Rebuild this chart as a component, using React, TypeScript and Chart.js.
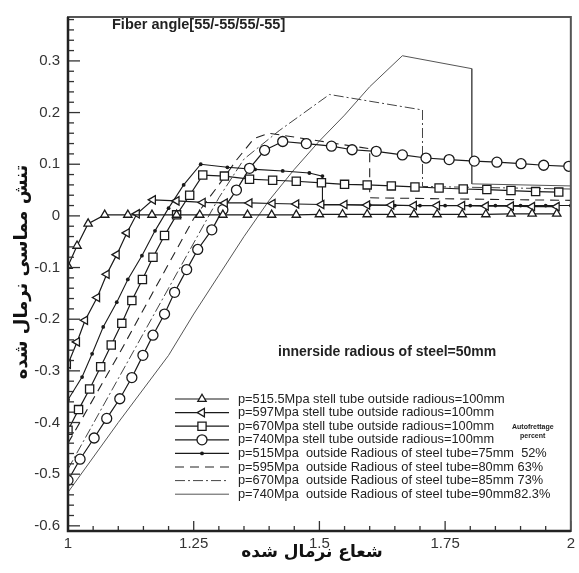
import React, { useEffect, useRef } from "react";
import { Chart, registerables } from "chart.js";
Chart.register(...registerables);

// ---- axis ticks ----
const xTicks = [1, 1.25, 1.5, 1.75, 2];
const yTicks = [-0.6, -0.5, -0.4, -0.3, -0.2, -0.1, 0, 0.1, 0.2, 0.3];

// ---- series ----
// p=515.5 MPa, outside radius 100 mm (triangles)
const s1X = [1, 1.018, 1.04, 1.073, 1.119, 1.167, 1.216, 1.262, 1.308, 1.357, 1.405, 1.454, 1.5, 1.546, 1.595, 1.643, 1.688, 1.734, 1.784, 1.831, 1.881, 1.923, 1.972];
const s1Y = [-0.097, -0.058, -0.015, 0.002, 0.002, 0.002, 0.002, 0.002, 0.002, 0.002, 0.002, 0.002, 0.003, 0.003, 0.003, 0.003, 0.003, 0.003, 0.003, 0.003, 0.004, 0.004, 0.004];
// p=597 MPa (left triangles)
const s2X = [1, 1.018, 1.034, 1.058, 1.077, 1.097, 1.117, 1.137, 1.169, 1.216, 1.268, 1.312, 1.361, 1.407, 1.454, 1.504, 1.55, 1.595, 1.643, 1.688, 1.734, 1.784, 1.831, 1.881, 1.923, 1.972];
const s2Y = [-0.287, -0.244, -0.202, -0.158, -0.113, -0.075, -0.033, 0.004, 0.031, 0.029, 0.026, 0.025, 0.025, 0.024, 0.023, 0.022, 0.022, 0.021, 0.021, 0.02, 0.02, 0.02, 0.019, 0.019, 0.018, 0.018];
// p=670 MPa (squares)
const s3X = [1, 1.021, 1.043, 1.065, 1.086, 1.107, 1.127, 1.148, 1.169, 1.192, 1.216, 1.242, 1.268, 1.311, 1.361, 1.407, 1.454, 1.504, 1.55, 1.595, 1.643, 1.69, 1.738, 1.786, 1.833, 1.881, 1.93, 1.976];
const s3Y = [-0.415, -0.375, -0.335, -0.292, -0.25, -0.208, -0.164, -0.123, -0.08, -0.038, 0.002, 0.04, 0.079, 0.077, 0.071, 0.069, 0.067, 0.064, 0.061, 0.06, 0.058, 0.056, 0.054, 0.052, 0.051, 0.049, 0.047, 0.046];
// p=740 MPa (circles)
const s4X = [1, 1.024, 1.052, 1.077, 1.103, 1.127, 1.149, 1.169, 1.192, 1.212, 1.236, 1.258, 1.286, 1.308, 1.335, 1.361, 1.391, 1.427, 1.474, 1.524, 1.565, 1.613, 1.665, 1.712, 1.758, 1.808, 1.853, 1.901, 1.946, 1.996];
const s4Y = [-0.512, -0.471, -0.43, -0.392, -0.354, -0.313, -0.27, -0.231, -0.19, -0.148, -0.104, -0.065, -0.027, 0.012, 0.05, 0.092, 0.127, 0.144, 0.14, 0.135, 0.128, 0.125, 0.118, 0.112, 0.109, 0.106, 0.104, 0.101, 0.098, 0.096];
// p=515 MPa, 75 mm (line with dots)
const s5X = [1, 1.028, 1.048, 1.07, 1.097, 1.119, 1.147, 1.173, 1.2, 1.23, 1.264, 1.317, 1.372, 1.427, 1.48, 1.506, 1.506, 1.55, 1.6, 1.65, 1.7, 1.75, 1.8, 1.85, 1.9, 1.95, 2.0];
const s5Y = [-0.356, -0.312, -0.267, -0.215, -0.167, -0.123, -0.077, -0.029, 0.015, 0.06, 0.1, 0.094, 0.09, 0.087, 0.083, 0.077, 0.021, 0.021, 0.021, 0.02, 0.02, 0.02, 0.02, 0.02, 0.02, 0.02, 0.02];
// p=595 MPa, 80 mm (dashed)
const s6X = [1, 1.1, 1.2, 1.25, 1.3, 1.335, 1.37, 1.4, 1.5, 1.6, 1.6, 2];
const s6Y = [-0.44, -0.27, -0.093, -0.005, 0.06, 0.108, 0.15, 0.16, 0.145, 0.13, 0.035, 0.03];
// p=670 MPa, 85 mm (dash-dot)
const s7X = [1, 1.1, 1.2, 1.3, 1.35, 1.42, 1.52, 1.705, 1.705, 2];
const s7Y = [-0.49, -0.315, -0.14, 0.035, 0.11, 0.165, 0.235, 0.205, 0.057, 0.052];
// p=740 MPa, 90 mm (solid)
const s8X = [1, 1.1, 1.2, 1.25, 1.3, 1.35, 1.4, 1.45, 1.5, 1.55, 1.6, 1.665, 1.803, 1.803, 2];
const s8Y = [-0.535, -0.4, -0.27, -0.19, -0.115, -0.04, 0.03, 0.09, 0.145, 0.195, 0.25, 0.31, 0.285, 0.062, 0.058];

const seriesLabels = [
  "p=515.5Mpa stell tube outside radious=100mm",
  "p=597Mpa stell tube outside radious=100mm",
  "p=670Mpa stell tube outside radious=100mm",
  "p=740Mpa stell tube outside radious=100mm",
  "p=515Mpa  outside Radious of steel tube=75mm  52%",
  "p=595Mpa  outside Radious of steel tube=80mm 63%",
  "p=670Mpa  outside Radious of steel tube=85mm 73%",
  "p=740Mpa  outside Radious of steel tube=90mm82.3%",
];

const titleText = "Fiber angle[55/-55/55/-55]";
const noteText = "innerside radious of steel=50mm";
const yTitle = "تنش مماسی نرمال شده";
const xTitle = "شعاع نرمال شده";

const INK = "#1a1a1a";
const FONT = "'Liberation Sans', Arial, sans-serif";

type Marker = "triangle" | "left" | "rect" | "circle" | "dot" | "none";
const styles: { marker: Marker; dash: number[]; color: string; width: number; r: number }[] = [
  { marker: "triangle", dash: [], color: INK, width: 1.2, r: 4.8 },
  { marker: "left", dash: [], color: INK, width: 1.2, r: 4.8 },
  { marker: "rect", dash: [], color: INK, width: 1.2, r: 5.8 },
  { marker: "circle", dash: [], color: INK, width: 1.2, r: 5 },
  { marker: "dot", dash: [], color: INK, width: 1.1, r: 1.9 },
  { marker: "none", dash: [9, 6], color: "#222", width: 1.1, r: 0 },
  { marker: "none", dash: [10, 3, 2, 3], color: "#444", width: 1, r: 0 },
  { marker: "none", dash: [], color: "#555", width: 1, r: 0 },
];

const xsArr = [s1X, s2X, s3X, s4X, s5X, s6X, s7X, s8X];
const ysArr = [s1Y, s2Y, s3Y, s4Y, s5Y, s6Y, s7Y, s8Y];

function drawMarker(ctx: CanvasRenderingContext2D, m: Marker, x: number, y: number, r: number) {
  ctx.beginPath();
  if (m === "triangle" || m === "left") {
    let rad = m === "left" ? -Math.PI / 2 : 0;
    for (let i = 0; i < 3; i++) {
      const px = x + Math.sin(rad) * r;
      const py = y - Math.cos(rad) * r;
      if (i === 0) ctx.moveTo(px, py);
      else ctx.lineTo(px, py);
      rad += (2 * Math.PI) / 3;
    }
    ctx.closePath();
    ctx.fillStyle = "#fff";
    ctx.fill();
    ctx.stroke();
  } else if (m === "rect") {
    const s = r * Math.SQRT1_2;
    ctx.rect(x - s, y - s, 2 * s, 2 * s);
    ctx.fillStyle = "#fff";
    ctx.fill();
    ctx.stroke();
  } else if (m === "circle") {
    ctx.arc(x, y, r, 0, Math.PI * 2);
    ctx.fillStyle = "#fff";
    ctx.fill();
    ctx.stroke();
  } else if (m === "dot") {
    ctx.arc(x, y, r, 0, Math.PI * 2);
    ctx.fillStyle = INK;
    ctx.fill();
  }
}

const framePlugin = {
  id: "framePlugin",
  afterDatasetsDraw(chart: any) {
    const { ctx, chartArea: a, scales } = chart;
    const xs = scales.x;
    const ys = scales.y;
    ctx.save();
    // minor/major ticks pointing inward
    ctx.strokeStyle = "#333";
    ctx.lineWidth = 1.3;
    for (let k = -30; k <= 19; k++) {
      const py = ys.getPixelForValue(k * 0.02);
      if (py < a.top || py > a.bottom) continue;
      const major = k % 5 === 0;
      ctx.beginPath();
      ctx.moveTo(a.left, py);
      ctx.lineTo(a.left + (major ? 12 : 6), py);
      ctx.stroke();
    }
    for (let k = 0; k <= 20; k++) {
      const px = xs.getPixelForValue(1 + k * 0.05);
      const major = k % 5 === 0;
      ctx.beginPath();
      ctx.moveTo(px, a.bottom);
      ctx.lineTo(px, a.bottom - (major ? 10 : 5));
      ctx.stroke();
    }
    // frame
    ctx.strokeStyle = "#555";
    ctx.lineWidth = 2;
    ctx.strokeRect(a.left, a.top, a.right - a.left, a.bottom - a.top);
    ctx.strokeStyle = "#222";
    ctx.lineWidth = 2.5;
    ctx.beginPath();
    ctx.moveTo(a.left, a.top);
    ctx.lineTo(a.left, a.bottom);
    ctx.lineTo(a.right, a.bottom);
    ctx.stroke();

    // title texts
    ctx.fillStyle = "#222";
    ctx.textBaseline = "middle";
    ctx.textAlign = "left";
    ctx.font = `bold 14.5px ${FONT}`;
    ctx.fillText(titleText, 112, 25);
    ctx.font = `bold 14px ${FONT}`;
    ctx.fillText(noteText, 278, 352);

    // legend
    const rowY0 = 399;
    const rowGap = 13.6;
    seriesLabels.forEach((lab, i) => {
      const st = styles[i];
      const y = rowY0 + i * rowGap;
      ctx.strokeStyle = st.color;
      ctx.lineWidth = st.width;
      ctx.setLineDash(st.dash);
      ctx.beginPath();
      ctx.moveTo(175, y);
      ctx.lineTo(229, y);
      ctx.stroke();
      ctx.setLineDash([]);
      ctx.strokeStyle = INK;
      ctx.lineWidth = 1.3;
      drawMarker(ctx, st.marker, 202, y, st.r);
      ctx.fillStyle = "#222";
      ctx.font = `12.8px ${FONT}`;
      ctx.textAlign = "left";
      ctx.fillText(lab, 238, y);
    });
    ctx.font = `bold 7px ${FONT}`;
    ctx.fillText("Autofrettage", 512, 427);
    ctx.fillText("percent", 520, 436);

    // axis titles (Persian)
    ctx.font = "bold 17px 'DejaVu Sans', sans-serif";
    ctx.textAlign = "center";
    ctx.fillStyle = "#111";
    ctx.fillText(xTitle, 312, 553);
    ctx.font = "bold 18px 'DejaVu Sans', sans-serif";
    ctx.translate(22, 272);
    ctx.rotate(-Math.PI / 2);
    ctx.fillText(yTitle, 0, 0);
    ctx.restore();
  },
};

export default function App() {
  const ref = useRef<HTMLCanvasElement | null>(null);
  useEffect(() => {
    if (!ref.current) return;
    const datasets = seriesLabels.map((label, i) => {
      const st = styles[i];
      const data = xsArr[i].map((x, j) => ({ x, y: ysArr[i][j] }));
      const hasMarker = st.marker !== "none";
      return {
        label,
        data,
        showLine: true,
        fill: false,
        tension: 0,
        borderColor: st.color,
        borderWidth: st.width,
        borderDash: st.dash,
        pointStyle:
          st.marker === "rect" ? "rect" : st.marker === "circle" || st.marker === "dot" ? "circle" : "triangle",
        rotation: st.marker === "left" ? -90 : 0,
        pointRadius: hasMarker ? st.r : 0,
        pointHoverRadius: hasMarker ? st.r : 0,
        pointBackgroundColor: st.marker === "dot" ? INK : "#fff",
        pointBorderColor: INK,
        pointBorderWidth: st.marker === "dot" ? 0 : 1.3,
      };
    });
    const chart = new Chart(ref.current, {
      type: "scatter",
      data: { datasets },
      options: {
        animation: false,
        responsive: true,
        maintainAspectRatio: false,
        layout: { padding: { top: 13, right: 4, left: 0, bottom: 0 } },
        plugins: { legend: { display: false }, tooltip: { enabled: false } },
        scales: {
          x: {
            type: "linear",
            min: 1,
            max: 2,
            grid: { display: false, drawTicks: false },
            border: { display: false },
            afterFit: (s: any) => {
              s.height = 42;
            },
            afterBuildTicks: (s: any) => {
              s.ticks = xTicks.map((v) => ({ value: v }));
            },
            ticks: {
              padding: 4,
              color: "#333",
              font: { family: FONT, size: 15 },
              maxRotation: 0,
              autoSkip: false,
              callback: (v: any) => String(Math.round(Number(v) * 100) / 100),
            },
          },
          y: {
            type: "linear",
            min: -0.61,
            max: 0.385,
            grid: { display: false, drawTicks: false },
            border: { display: false },
            afterFit: (s: any) => {
              s.width = 68;
            },
            afterBuildTicks: (s: any) => {
              s.ticks = yTicks.map((v) => ({ value: v }));
            },
            ticks: {
              padding: 8,
              color: "#333",
              font: { family: FONT, size: 15 },
              autoSkip: false,
              callback: (v: any) => String(Math.round(Number(v) * 10) / 10),
            },
          },
        },
      },
      plugins: [framePlugin],
    } as any);
    return () => chart.destroy();
  }, []);
  return (
    <div style={{ position: "fixed", left: 0, top: 0, width: 579, height: 573, background: "#fff" }}>
      <canvas ref={ref} />
    </div>
  );
}
